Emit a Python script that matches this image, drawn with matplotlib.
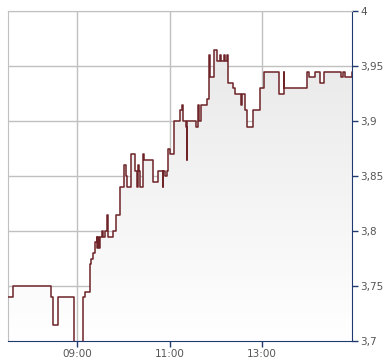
import numpy as np
import matplotlib
matplotlib.use("Agg")
import matplotlib.pyplot as plt

# price changes (time of change, new price)
times = ["07:30", "07:36", "08:26", "08:29", "08:35", "08:56", "09:07", "09:10",
         "09:16", "09:18", "09:21", "09:23", "09:25", "09:26", "09:27", "09:28",
         "09:29", "09:32", "09:34", "09:36", "09:38", "09:40", "09:47", "09:50",
         "09:55", "10:01", "10:03", "10:05", "10:10", "10:15", "10:17", "10:19",
         "10:20", "10:22", "10:25", "10:27", "10:39", "10:45", "10:51", "10:52",
         "10:54", "10:56", "10:58", "11:01", "11:06", "11:14", "11:16", "11:17",
         "11:21", "11:22", "11:23", "11:34", "11:37", "11:38", "11:41", "11:48",
         "11:51", "11:53", "11:58", "12:02", "12:05", "12:07", "12:11", "12:12",
         "12:15", "12:16", "12:23", "12:25", "12:33", "12:34", "12:38", "12:40",
         "12:48", "12:58", "13:03", "13:22", "13:28", "13:29", "13:58", "14:01",
         "14:09", "14:16", "14:20", "14:43", "14:45", "14:48", "14:57", "15:00"]
prices = [3.74, 3.75, 3.74, 3.715, 3.74, 3.69, 3.74, 3.745,
          3.77, 3.775, 3.78, 3.79, 3.795, 3.785, 3.795, 3.785,
          3.795, 3.80, 3.795, 3.80, 3.815, 3.795, 3.80, 3.815,
          3.84, 3.86, 3.85, 3.84, 3.87, 3.855, 3.84, 3.86,
          3.855, 3.84, 3.87, 3.865, 3.845, 3.855, 3.84, 3.855,
          3.85, 3.855, 3.875, 3.87, 3.90, 3.91, 3.915, 3.90,
          3.895, 3.865, 3.90, 3.895, 3.915, 3.90, 3.915, 3.92,
          3.96, 3.94, 3.965, 3.955, 3.96, 3.955, 3.96, 3.955,
          3.96, 3.935, 3.93, 3.925, 3.915, 3.925, 3.91, 3.895,
          3.91, 3.93, 3.945, 3.925, 3.945, 3.93, 3.945, 3.94,
          3.945, 3.935, 3.945, 3.94, 3.945, 3.94, 3.945, 3.945]

xticks = [9, 11, 13]
xlabels = ["09:00", "11:00", "13:00"]
yticks = [3.7, 3.75, 3.8, 3.85, 3.9, 3.95, 4.0]
ylabels = ["3,7", "3,75", "3,8", "3,85", "3,9", "3,95", "4"]

t = np.array([int(s[:2]) + int(s[3:]) / 60 for s in times])
p = np.array(prices)

fig = plt.figure(figsize=(3.9, 3.64), dpi=100)
ax = fig.add_axes([8 / 390, 23 / 364, 344 / 390, 330 / 364])
ax.set_xlim(7.5, 14.95)
ax.set_ylim(3.7, 4.0)

# gradient fill under the line
poly = ax.fill_between(t, p, 3.6, step="post", color="none")
grad = np.linspace(0, 1, 256).reshape(-1, 1)
img = ax.imshow(grad, extent=[7.5, 14.95, 3.7, 4.0], origin="lower",
                cmap=matplotlib.colors.LinearSegmentedColormap.from_list(
                    "g", ["#ffffff", "#e6e6e6"]),
                aspect="auto", zorder=1)
img.set_clip_path(poly.get_paths()[0], transform=ax.transData)

ax.step(t, p, where="post", color="#6e2328", lw=1.1, zorder=3)

ax.grid(True, color="#c0c0c0", lw=1, zorder=0)
ax.set_axisbelow(True)
ax.set_xticks(xticks)
ax.set_xticklabels(xlabels)
ax.set_yticks(yticks)
ax.set_yticklabels(ylabels)
ax.yaxis.tick_right()
ax.tick_params(axis="both", colors="#1f3a6e", labelcolor="#555555",
               labelsize=7.5, length=4, width=1, direction="out", pad=2)
for s in ["top", "left"]:
    ax.spines[s].set_color("#c0c0c0")
for s in ["bottom", "right"]:
    ax.spines[s].set_color("#1f3a6e")

fig.savefig("out.png", dpi=100)
